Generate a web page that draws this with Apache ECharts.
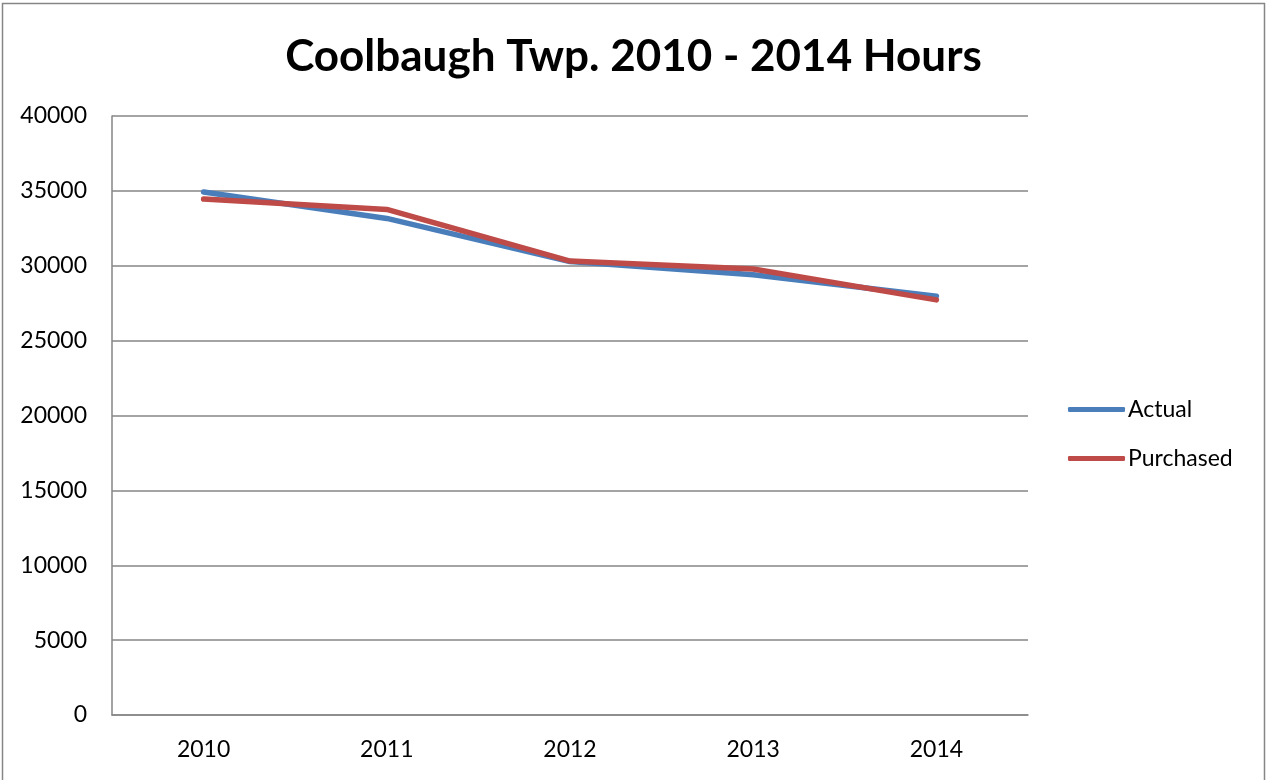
<!DOCTYPE html>
<html><head><meta charset="utf-8">
<script src="https://cdn.jsdelivr.net/npm/echarts@6/dist/echarts.min.js"></script>
<style>html,body{margin:0;padding:0;background:#fff}#c{width:1267px;height:780px}</style>
</head><body><div id="c"></div>
<script>
const categories = ['2010', '2011', '2012', '2013', '2014'];
const actual = [34930, 33160, 30280, 29400, 27960];
const purchased = [34450, 33760, 30310, 29780, 27720];
const yTicks = {min: 0, max: 40000, interval: 5000};

const FONT = 'Lato';
const chart = echarts.init(document.getElementById('c'));
chart.setOption({
  backgroundColor: '#fff',
  animation: false,
  title: {
    text: 'Coolbaugh Twp. 2010 - 2014 Hours',
    left: 'center', top: 30,
    textStyle: {fontFamily: FONT, fontSize: 44, fontWeight: 'bold', color: '#000'}
  },
  graphic: [{
    type: 'rect', shape: {x: 2.5, y: 3.5, width: 1262, height: 790},
    style: {fill: 'none', stroke: '#868686', lineWidth: 1.5}, silent: true
  }],
  legend: {
    orient: 'vertical', left: 1068, top: 398, padding: 0,
    itemWidth: 57, itemHeight: 5, itemGap: 26,
    icon: 'roundRect',
    textStyle: {fontFamily: FONT, fontSize: 23, color: '#000', padding: [0, 0, 0, -2]},
    data: ['Actual', 'Purchased']
  },
  grid: {left: 112, right: 239, top: 116, bottom: 65, containLabel: false},
  xAxis: {
    type: 'category', data: categories, boundaryGap: true,
    axisLine: {lineStyle: {color: '#868686', width: 1.5}},
    axisTick: {show: false},
    axisLabel: {fontFamily: FONT, fontSize: 23, color: '#000', margin: 23}
  },
  yAxis: {
    type: 'value', min: yTicks.min, max: yTicks.max, interval: yTicks.interval,
    axisLine: {show: true, lineStyle: {color: '#868686', width: 1.5}},
    axisTick: {show: false},
    splitLine: {lineStyle: {color: '#868686', width: 1.5}},
    axisLabel: {fontFamily: FONT, fontSize: 23, color: '#000', margin: 25,
      formatter: v => String(v)}
  },
  series: [
    {name: 'Actual', type: 'line', data: actual, symbol: 'none',
     lineStyle: {width: 5.5, color: '#4A7EBB', cap: 'round'}, itemStyle: {color: '#4A7EBB'}},
    {name: 'Purchased', type: 'line', data: purchased, symbol: 'none',
     lineStyle: {width: 5.5, color: '#BE4B48', cap: 'round'}, itemStyle: {color: '#BE4B48'}}
  ]
});
</script></body></html>
